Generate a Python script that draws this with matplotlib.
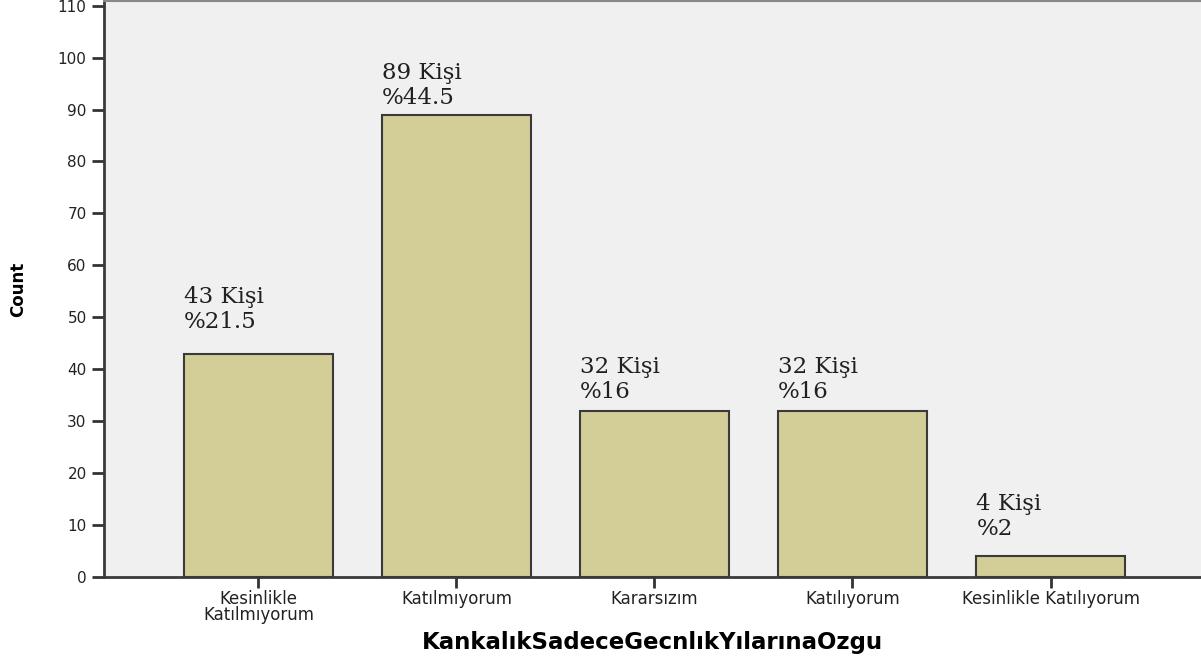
import numpy as np
import matplotlib.pyplot as plt

# veri
categories = ['Kesinlikle\nKatılmıyorum', 'Katılmıyorum', 'Kararsızım',
              'Katılıyorum', 'Kesinlikle Katılıyorum']
counts = [43, 89, 32, 32, 4]
percents = ['21.5', '44.5', '16', '16', '2']

# etiketlerin çubuk üstündeki yüksekliği (veri birimi)
label_gap = [5.0, 2.1, 2.5, 2.5, 4.1]

fig = plt.figure(figsize=(12.01, 6.59), dpi=100)
ax = fig.add_axes([0.0866, 0.1244, 0.9134, 0.8741])
ax.set_facecolor('#f0f0f0')

x = np.arange(len(categories))
width = 0.75
ax.bar(x, counts, width=width, color='#d3ce97', edgecolor='#3a3a3a',
       linewidth=1.5, zorder=2)

for xi, c, p, g in zip(x, counts, percents, label_gap):
    ax.annotate(f'%{p}', (xi - width / 2, c + g), ha='left', va='baseline',
                fontsize=16.5, family='DejaVu Serif', color='#202020')
    ax.annotate(f'{c} Kişi', (xi - width / 2, c + g), xytext=(0, 18),
                textcoords='offset points', ha='left', va='baseline',
                fontsize=16.5, family='DejaVu Serif', color='#202020')

ax.set_xlim(-0.78, 4.76)
ax.set_ylim(0, 110.9)
ax.set_yticks(range(0, 111, 10))
ax.set_xticks(x)
ax.set_xticklabels(categories, fontsize=12, linespacing=0.9)
ax.tick_params(axis='y', labelsize=11, length=9, width=2, color='#333333',
               labelcolor='#222222')
ax.tick_params(axis='x', length=8, width=2, color='#333333', pad=1,
               labelcolor='#222222')

for s in ['left', 'bottom']:
    ax.spines[s].set_color('#3a3a3a')
    ax.spines[s].set_linewidth(2)
ax.spines['top'].set_color('#888888')
ax.spines['top'].set_linewidth(1.5)
ax.spines['right'].set_visible(False)

ax.set_xlabel('KankalıkSadeceGecnlıkYılarınaOzgu', fontsize=16.5,
              fontweight='bold', labelpad=5)
ax.set_ylabel('Count', fontsize=12, fontweight='bold', labelpad=22)

fig.savefig('out.png', dpi=100)
